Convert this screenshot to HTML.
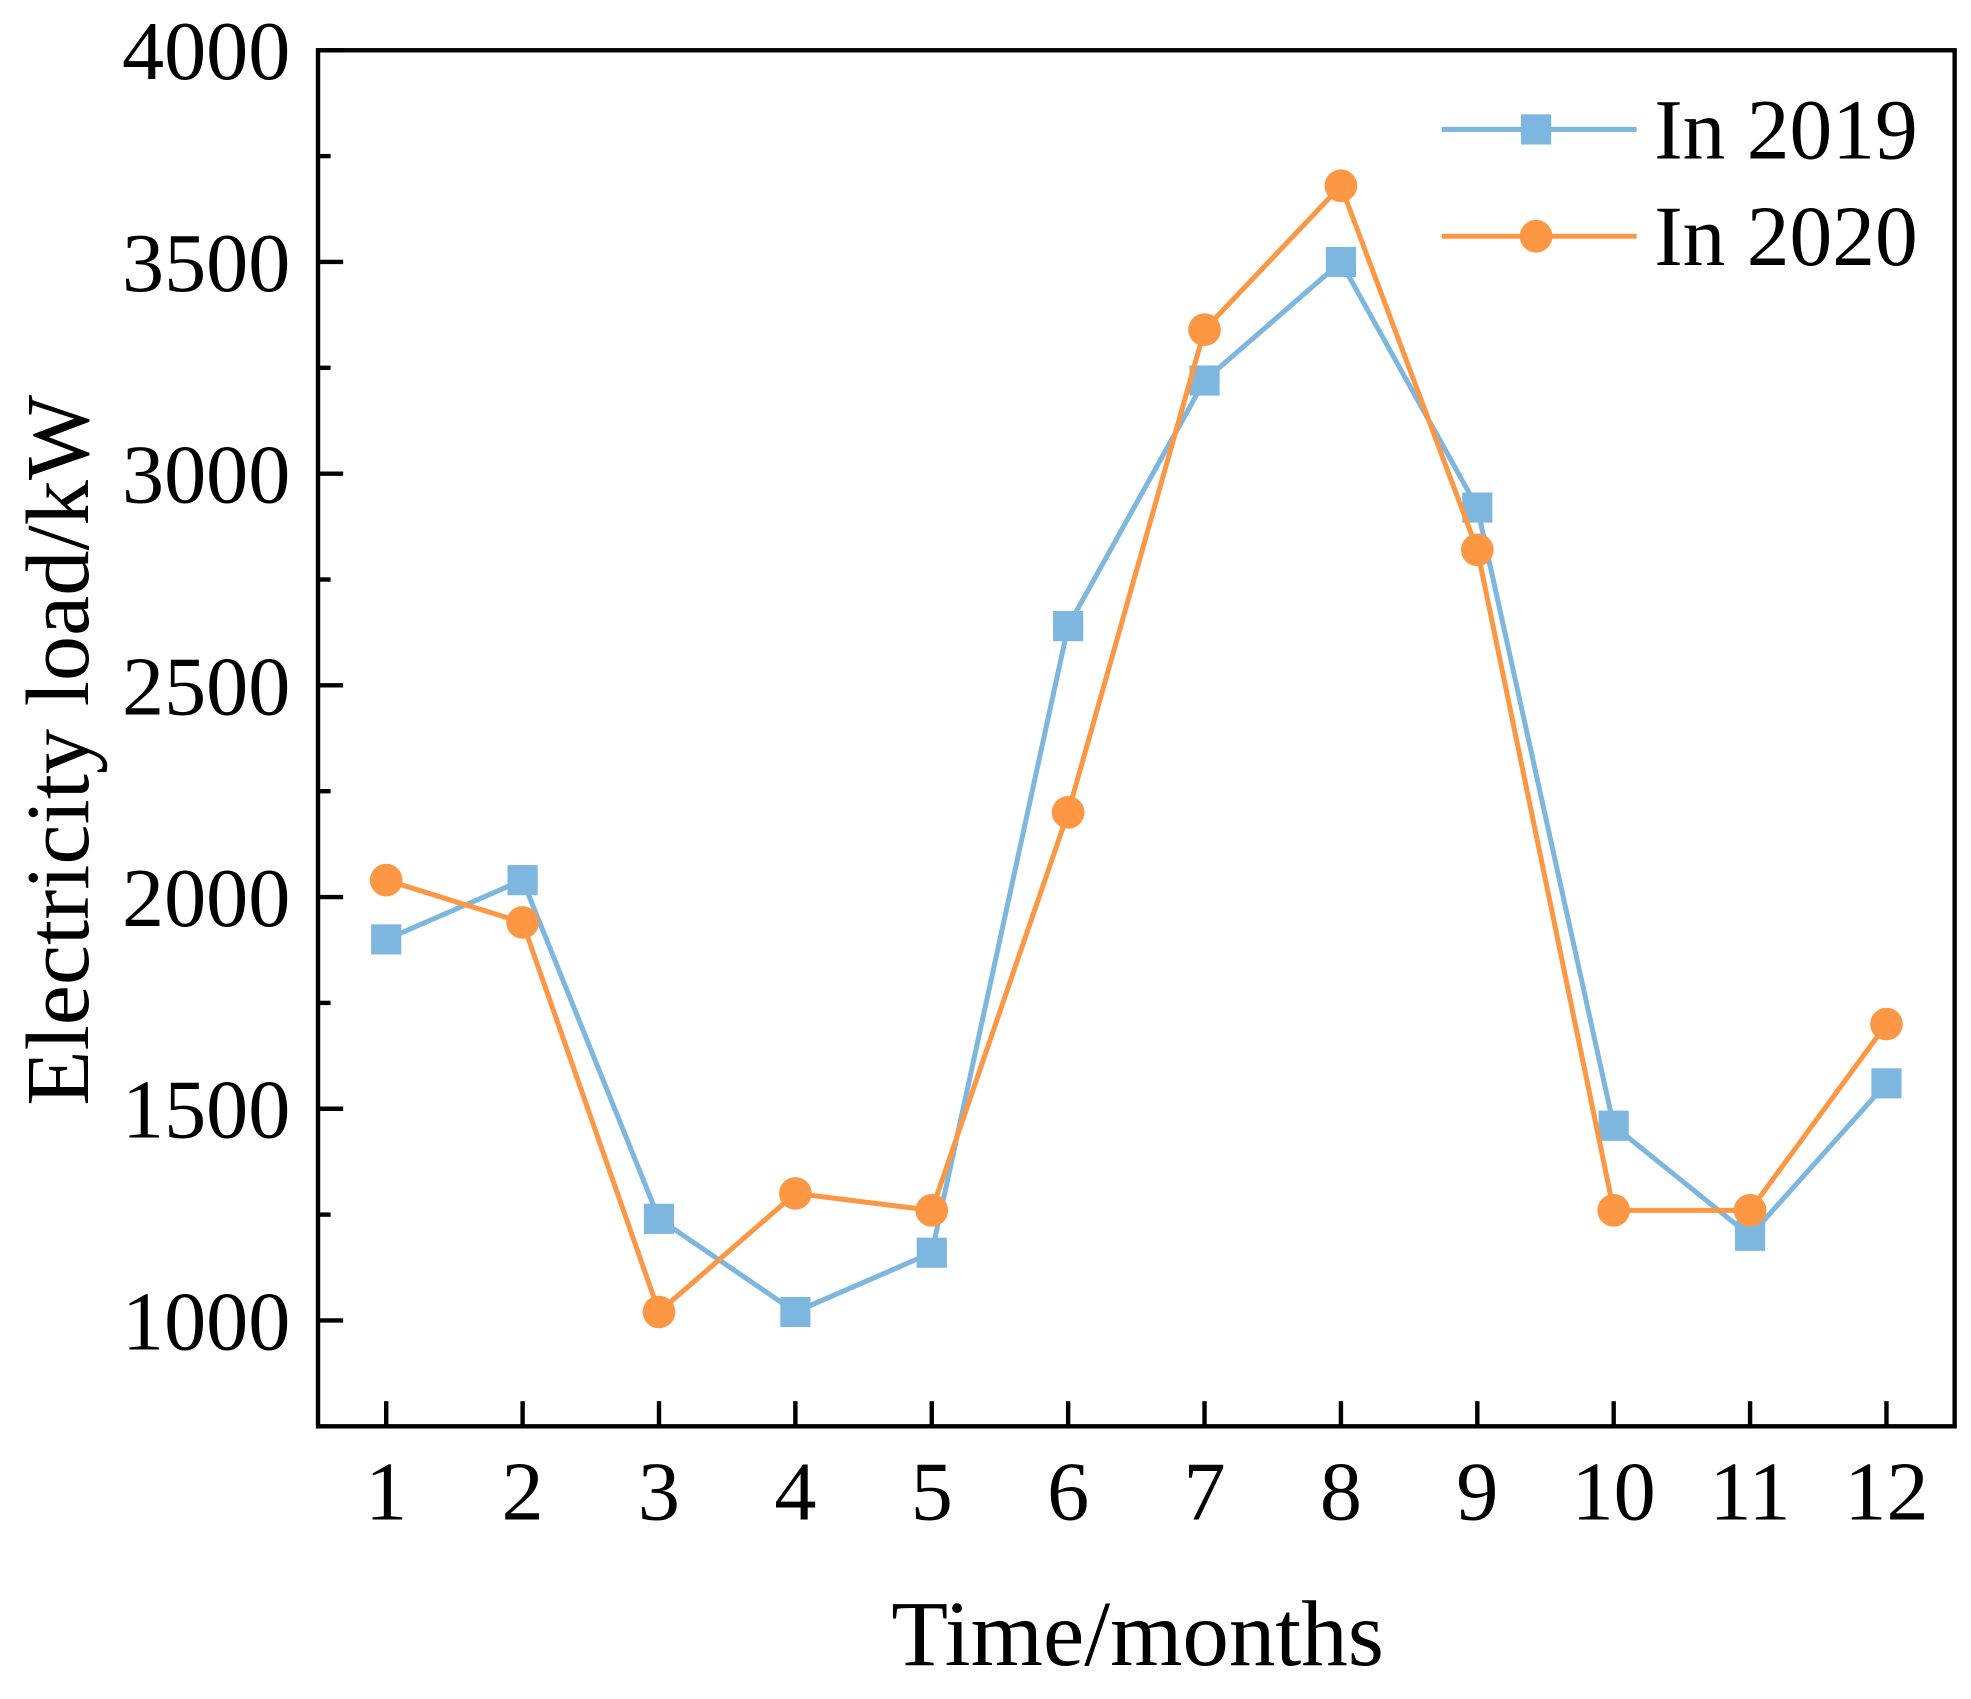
<!DOCTYPE html>
<html><head><meta charset="utf-8"><style>html,body{margin:0;padding:0;background:#fff}svg{display:block}</style></head>
<body>
<svg id="chart" width="1971" height="1699" viewBox="0 0 1568 1352" preserveAspectRatio="none" xmlns="http://www.w3.org/2000/svg" font-family="'Liberation Serif', serif">
<g id="axes"></g>
<g id="series"></g>
<g id="legend">
 <line x1="1147" y1="103" x2="1302" y2="103" stroke="#7db6de" stroke-width="4"/>
 <rect x="1210" y="91" width="24" height="24" fill="#7db6de"/>
 <text x="1316" y="126" font-size="68">In 2019</text>
 <line x1="1147" y1="188" x2="1302" y2="188" stroke="#fd9744" stroke-width="4"/>
 <circle cx="1222" cy="188" r="13" fill="#fd9744"/>
 <text x="1316" y="211" font-size="68">In 2020</text>
</g>
<text x="905" y="1325" font-size="74" text-anchor="middle">Time/months</text>
<text transform="translate(70,597) rotate(-90)" font-size="72" text-anchor="middle">Electricity load/kW</text>
</svg>
<script>
const months = [1,2,3,4,5,6,7,8,9,10,11,12];
const load2019 = [1900,2040,1240,1020,1160,2640,3220,3500,2920,1460,1200,1560];
const load2020 = [2040,1940,1020,1300,1260,2200,3340,3680,2820,1260,1260,1700];
const yTicks = [1000,1500,2000,2500,3000,3500,4000];
const xTickLabels = ["1","2","3","4","5","6","7","8","9","10","11","12"];

const L=253,R=1555,T=40,B=1135, xmin=0.5,xmax=12.5,ymin=750,ymax=4000;
const xs=v=>L+(v-xmin)/(xmax-xmin)*(R-L);
const ys=v=>B-(v-ymin)/(ymax-ymin)*(B-T);
const NS="http://www.w3.org/2000/svg";
function mk(tag,attrs,parent){const e=document.createElementNS(NS,tag);for(const k in attrs)e.setAttribute(k,attrs[k]);parent.appendChild(e);return e;}
const axes=document.getElementById('axes'), series=document.getElementById('series');
const frame=mk('rect',{x:L,y:T,width:R-L,height:B-T,fill:'none',stroke:'#000','stroke-width':3.5},axes);


for(let v=1000;v<=4000;v+=250){
  const major=v%500===0;
  const t=mk('line',{x1:L,x2:L+(major?20:10),y1:ys(v),y2:ys(v),stroke:'#000','stroke-width':3.5},axes);
  
  
}
yTicks.forEach(v=>{
  const t=mk('text',{x:231,y:ys(v)+23,'font-size':67,'text-anchor':'end'},axes);t.textContent=v;
  
  
});
months.forEach((m,i)=>{
  const t=mk('line',{x1:xs(m),x2:xs(m),y1:B,y2:B-20,stroke:'#000','stroke-width':3.5},axes);
  
  
  const l=mk('text',{x:xs(m),y:1209,'font-size':67,'text-anchor':'middle'},axes);l.textContent=xTickLabels[i];
  
  
});
function draw(data,color,shape,name){
  const p=mk('polyline',{points:data.map((v,i)=>xs(months[i])+','+ys(v)).join(' '),fill:'none',stroke:color,'stroke-width':4},series);
  
  
  data.forEach((v,i)=>{
    let e;
    if(shape==='sq') e=mk('rect',{x:xs(months[i])-12,y:ys(v)-12,width:24,height:24,fill:color},series);
    else e=mk('circle',{cx:xs(months[i]),cy:ys(v),r:13,fill:color},series);
    
    
  });
}
draw(load2019,'#7db6de','sq','series-2019');
draw(load2020,'#fd9744','ci','series-2020');
</script>
</body></html>
